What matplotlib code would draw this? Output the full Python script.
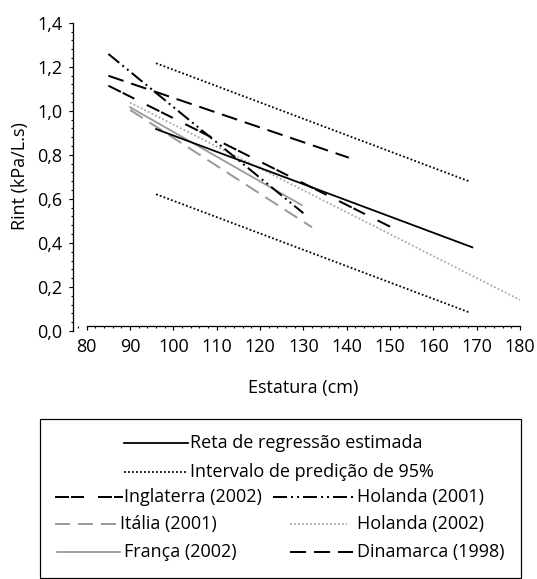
import matplotlib
matplotlib.use("Agg")
import matplotlib.pyplot as plt
from matplotlib.lines import Line2D
from matplotlib.patches import Rectangle
from matplotlib.ticker import MultipleLocator, FuncFormatter

plt.rcParams['font.family'] = ['Open Sans', 'DejaVu Sans']
plt.rcParams['lines.scale_dashes'] = False

# ---- data (start/end of each line) ----
reg_x = [96, 169]
reg_y = [0.917, 0.380]
pi_up_x = [96, 168.5]
pi_up_y = [1.216, 0.678]
pi_lo_x = [96, 168.5]
pi_lo_y = [0.621, 0.083]
ing_x = [85, 150]
ing_y = [1.114, 0.474]
hol01_x = [85, 130]
hol01_y = [1.258, 0.535]
ita_x = [90, 132]
ita_y = [1.004, 0.471]
hol02_x = [90, 180]
hol02_y = [1.037, 0.141]
fra_x = [90, 129.6]
fra_y = [1.016, 0.572]
din_x = [85, 140.5]
din_y = [1.159, 0.787]

x_ticks = [80, 90, 100, 110, 120, 130, 140, 150, 160, 170, 180]
y_ticks = [0.0, 0.2, 0.4, 0.6, 0.8, 1.0, 1.2, 1.4]

W, H = 537, 579
PX = 72 / 100.0  # px -> pt
GRAY = '#9a9a9a'
LGRAY = '#a8a8a8'
FS = 13

def ls(*px):
    return (0, tuple(p * PX for p in px))

styles = {
    'reg': dict(color='black', lw=1.8 * PX, linestyle='-'),
    'pi': dict(color='black', lw=1.8 * PX, linestyle=ls(1.8, 2.2)),
    'ing': dict(color='black', lw=2.0 * PX, linestyle=ls(14, 2, 13, 14)),
    'hol01': dict(color='black', lw=2.0 * PX, linestyle=ls(14, 4, 2, 4, 2, 4)),
    'ita': dict(color=GRAY, lw=2.0 * PX, linestyle=ls(15, 8)),
    'hol02': dict(color=LGRAY, lw=1.8 * PX, linestyle=ls(1.8, 2.2)),
    'fra': dict(color=GRAY, lw=1.8 * PX, linestyle='-'),
    'din': dict(color='black', lw=2.0 * PX, linestyle=ls(16, 8)),
}

fig = plt.figure(figsize=(W / 100, H / 100), dpi=100)
ax = fig.add_axes([73.3 / W, 1 - 331 / H, (520 - 73.3) / W, (331 - 22.7) / H])

ax.plot(fra_x, fra_y, **styles['fra'])
ax.plot(ita_x, ita_y, **styles['ita'])
ax.plot(hol02_x, hol02_y, **styles['hol02'])
ax.plot(pi_up_x, pi_up_y, **styles['pi'])
ax.plot(pi_lo_x, pi_lo_y, **styles['pi'])
ax.plot(din_x, din_y, **styles['din'])
ax.plot(ing_x, ing_y, **styles['ing'])
ax.plot(hol01_x, hol01_y, **styles['hol01'])
ax.plot(reg_x, reg_y, **styles['reg'])

ax.set_xlim(76.9, 180)
ax.set_ylim(0, 1.4)
ax.set_xticks(x_ticks)
ax.set_yticks(y_ticks)
ax.xaxis.set_minor_locator(MultipleLocator(2))
ax.yaxis.set_minor_locator(MultipleLocator(0.04))
ax.yaxis.set_major_formatter(FuncFormatter(lambda v, p: f"{v:.1f}".replace('.', ',')))
ax.xaxis.set_major_formatter(FuncFormatter(lambda v, p: f"{v:.0f}"))

for s in ['top', 'right']:
    ax.spines[s].set_visible(False)
ax.spines['left'].set_linewidth(1.3 * PX)
ax.spines['bottom'].set_linewidth(1.3 * PX)
ax.spines['bottom'].set_position(('data', 0.0227))
ax.spines['bottom'].set_bounds(80, 180)
ax.spines['left'].set_bounds(0, 1.4)

ax.tick_params(axis='both', which='major', length=4 * PX, width=1.2 * PX, direction='out', labelsize=FS, color='black')
ax.tick_params(axis='both', which='minor', length=2.5 * PX, width=1.1 * PX, direction='out', color='black')
ax.tick_params(axis='x', which='major', pad=6)
ax.tick_params(axis='y', which='major', pad=5)

ax.set_xlabel('Estatura (cm)', fontsize=FS)
ax.xaxis.label.set_va('center')
ax.xaxis.set_label_coords((303 - 73.3) / (520 - 73.3), -(388 - 331) / (331 - 22.7))
ax.set_ylabel('Rint (kPa/L.s)', fontsize=FS)
ax.yaxis.label.set_va('center')
ax.yaxis.label.set_ha('center')
ax.yaxis.set_label_coords(-(73.3 - 20) / (520 - 73.3), (331 - 176) / (331 - 22.7))

# ---- manual legend ----
def fx(px):
    return px / W

def fy(py):
    return 1 - py / H

fig.add_artist(Rectangle((fx(39.5), fy(578)), fx(521) - fx(39.5), fy(418.5) - fy(578),
                         transform=fig.transFigure, fill=False, edgecolor='black', lw=1.2 * PX))

entries = [
    ('reg', 124, 188, 443, 190, 'Reta de regressão estimada'),
    ('pi', 124, 188, 472, 190, 'Intervalo de predição de 95%'),
    ('ing', 55, 123, 497, 124, 'Inglaterra (2002)'),
    ('hol01', 273, 353, 497, 357, 'Holanda (2001)'),
    ('ita', 55, 118, 524, 120, 'Itália (2001)'),
    ('hol02', 290, 347, 524, 357, 'Holanda (2002)'),
    ('fra', 57, 120, 552, 124, 'França (2002)'),
    ('din', 290, 353, 552, 357, 'Dinamarca (1998)'),
]
for key, x0, x1, yy, tx, label in entries:
    fig.add_artist(Line2D([fx(x0), fx(x1)], [fy(yy), fy(yy)], transform=fig.transFigure, **styles[key]))
    fig.text(fx(tx), fy(yy), label, fontsize=FS, ha='left', va='center')

fig.savefig('out.png', dpi=100)
